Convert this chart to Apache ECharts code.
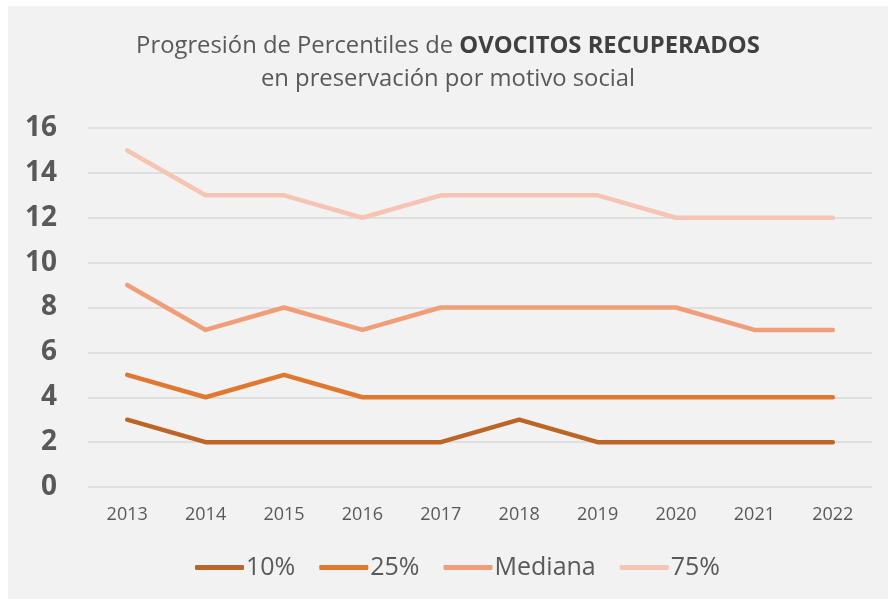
<!DOCTYPE html>
<html>
<head>
<meta charset="utf-8">
<script src="https://cdn.jsdelivr.net/npm/echarts@6/dist/echarts.min.js"></script>
<style>
  html, body { margin: 0; padding: 0; background: #ffffff; }
  #wrap { position: relative; width: 888px; height: 599px; background: #ffffff; }
  #chart { position: absolute; left: 8px; top: 6px; width: 880px; height: 593px; }
</style>
</head>
<body>
<div id="wrap"><div id="chart"></div></div>
<script>
// datos
var years = ['2013', '2014', '2015', '2016', '2017', '2018', '2019', '2020', '2021', '2022'];
var p10 = [3, 2, 2, 2, 2, 3, 2, 2, 2, 2];
var p25 = [5, 4, 5, 4, 4, 4, 4, 4, 4, 4];
var mediana = [9, 7, 8, 7, 8, 8, 8, 8, 7, 7];
var p75 = [15, 13, 13, 12, 13, 13, 13, 12, 12, 12];
var seriesNames = ['10%', '25%', 'Mediana', '75%'];
var seriesColors = ['#bd6427', '#e0782f', '#f19d77', '#f6c4b3'];

var chart = echarts.init(document.getElementById('chart'));

var font = '"Open Sans", sans-serif';

//crear una serie de linea
function makeLine(name, data, color) {
    return {
        name: name,
        type: 'line',
        data: data,
        symbol: 'none',
        lineStyle: { width: 4.5, color: color, cap: 'round', join: 'round' },
        itemStyle: { color: color }
    };
}

var option = {
    backgroundColor: '#f2f2f2',
    textStyle: { fontFamily: font },
    title: {
        text: '{n|Progresión de Percentiles de }{b|OVOCITOS RECUPERADOS}\n{n|en preservación por motivo social}',
        left: 'center',
        top: 19,
        textStyle: {
            rich: {
                n: { fontSize: 23.8, color: '#595959', fontWeight: 'normal', fontFamily: font, lineHeight: 33 },
                b: { fontSize: 23.8, color: '#404040', fontWeight: 'bold', fontFamily: font, lineHeight: 33 }
            }
        }
    },
    legend: {
        top: 544,
        left: 182,
        icon: 'roundRect',
        itemWidth: 49,
        itemHeight: 5,
        itemGap: 24,
        textStyle: { fontSize: 25, color: '#595959', fontFamily: font, padding: [0, 0, 0, -3] },
        data: seriesNames
    },
    grid: { left: 80, right: 16, top: 122, bottom: 112 },
    xAxis: {
        type: 'category',
        data: years,
        boundaryGap: true,
        axisLine: { show: false },
        axisTick: { show: false },
        axisLabel: { fontSize: 18, color: '#595959', margin: 19 }
    },
    yAxis: {
        type: 'value',
        min: 0,
        max: 16,
        interval: 2,
        axisLine: { show: false },
        axisTick: { show: false },
        axisLabel: { fontSize: 28, fontWeight: 'bold', color: '#595959', margin: 31 },
        splitLine: { lineStyle: { color: '#d9d9d9', width: 1.5 } }
    },
    series: [
        makeLine(seriesNames[0], p10, seriesColors[0]),
        makeLine(seriesNames[1], p25, seriesColors[1]),
        makeLine(seriesNames[2], mediana, seriesColors[2]),
        makeLine(seriesNames[3], p75, seriesColors[3])
    ]
};

chart.setOption(option);
</script>
</body>
</html>
